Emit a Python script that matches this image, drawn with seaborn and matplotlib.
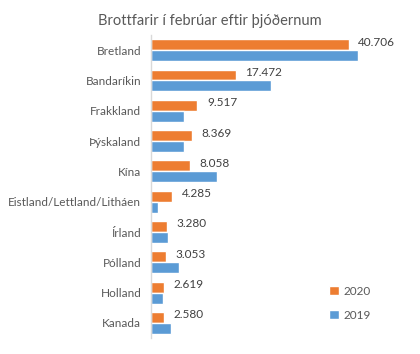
import pandas as pd
import matplotlib
matplotlib.use('Agg')
import matplotlib.pyplot as plt
import seaborn as sns

# Brottfarir eftir þjóðerni, febrúar 2020 og 2019
countries = ['Bretland', 'Bandaríkin', 'Frakkland', 'Þýskaland', 'Kína',
             'Eistland/Lettland/Litháen', 'Írland', 'Pólland', 'Holland', 'Kanada']
values_2020 = [40706, 17472, 9517, 8369, 8058, 4285, 3280, 3053, 2619, 2580]
values_2019 = [42600, 24700, 6800, 6800, 13600, 1400, 3500, 5750, 2450, 4100]
years = ['2020', '2019']

df = pd.DataFrame({
    'land': countries * 2,
    'ár': ['2020'] * len(countries) + ['2019'] * len(countries),
    'fjöldi': values_2020 + values_2019,
})

sns.set_style('white')
plt.rcParams['font.family'] = ['Lato', 'DejaVu Sans']

fig = plt.figure(figsize=(4.2, 3.54), dpi=100)
ax = fig.add_axes([0.3595, 0.045, 0.578, 0.856])

sns.barplot(data=df, x='fjöldi', y='land', hue='ár', hue_order=years,
            palette={'2020': '#ED7D31', '2019': '#5B9BD5'},
            orient='h', width=0.72, ax=ax, errorbar=None, saturation=1)

ax.set_xlim(0, 50000)
ax.set_xlabel('')
ax.set_ylabel('')
ax.set_xticks([])
ax.tick_params(axis='y', length=0, pad=7, labelsize=8.5, labelcolor='#595959')
for s in ['top', 'right', 'bottom']:
    ax.spines[s].set_visible(False)
ax.spines['left'].set_color('#D9D9D9')
ax.spines['left'].set_linewidth(1)

# gildi á 2020 súlum
for i, v in enumerate(values_2020):
    ax.annotate(f'{v:,}'.replace(',', '.'), xy=(v, i - 0.22), xytext=(7, 1),
                textcoords='offset points', va='center', ha='left',
                fontsize=8.5, color='#404040')

fig.suptitle('Brottfarir í febrúar eftir þjóðernum', x=0.5, y=0.96,
             fontsize=10.5, color='#595959')

handles, labels = ax.get_legend_handles_labels()
ax.legend(handles, labels, loc='center left', bbox_to_anchor=(0.69, 0.115),
          frameon=False, fontsize=8.5, handlelength=0.8, handleheight=0.8,
          labelspacing=1.1, handletextpad=0.4, labelcolor='#595959')

fig.savefig('out.png', dpi=100)
